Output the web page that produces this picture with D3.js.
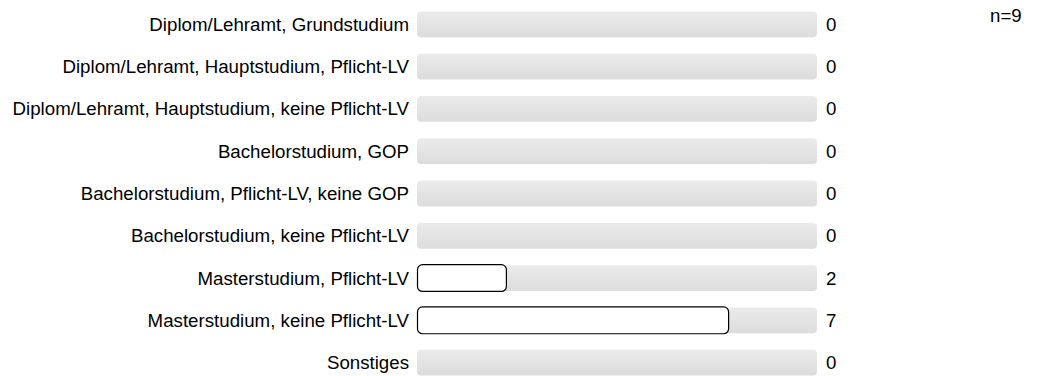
<!DOCTYPE html>
<html>
<head>
<meta charset="utf-8">
<script src="https://cdn.jsdelivr.net/npm/d3@7"></script>
<style>
  body { margin: 0; background: #fff; }
  text { font-family: "Liberation Sans", Arial, sans-serif; font-size: 18.7px; fill: #000; }
</style>
</head>
<body>
<script>
// answer categories and counts
var categories = [
  "Diplom/Lehramt, Grundstudium",
  "Diplom/Lehramt, Hauptstudium, Pflicht-LV",
  "Diplom/Lehramt, Hauptstudium, keine Pflicht-LV",
  "Bachelorstudium, GOP",
  "Bachelorstudium, Pflicht-LV, keine GOP",
  "Bachelorstudium, keine Pflicht-LV",
  "Masterstudium, Pflicht-LV",
  "Masterstudium, keine Pflicht-LV",
  "Sonstiges"
];
var counts = [0, 0, 0, 0, 0, 0, 2, 7, 0];
var total = 9;

var width = 1040, height = 376;

var svg = d3.select("body").append("svg")
    .attr("width", width)
    .attr("height", height);

var defs = svg.append("defs");
var grad = defs.append("linearGradient")
    .attr("id", "bg")
    .attr("x1", 0).attr("y1", 0).attr("x2", 0).attr("y2", 1);
grad.append("stop").attr("offset", "0%").attr("stop-color", "#ebebeb");
grad.append("stop").attr("offset", "100%").attr("stop-color", "#dcdcdc");

var xScale = d3.scaleLinear()
    .domain([0, total])
    .range([417, 817]);

var yScale = d3.scaleBand()
    .domain(categories)
    .range([3, 384])
    .paddingInner(0.39)
    .paddingOuter(0.2);

var rows = svg.selectAll(".row")
    .data(categories)
  .enter().append("g")
    .attr("class", "row")
    .attr("transform", function (d) { return "translate(0," + yScale(d) + ")"; });

var bh = yScale.bandwidth();

// grey background track
rows.append("rect")
    .attr("x", xScale(0))
    .attr("y", 0)
    .attr("width", xScale(total) - xScale(0))
    .attr("height", bh)
    .attr("rx", 4)
    .style("fill", "url(#bg)");

// value bar
rows.filter(function (d, i) { return counts[i] > 0; })
  .append("rect")
    .attr("x", xScale(0) + 0.5)
    .attr("y", -0.5)
    .attr("width", function (d) { return xScale(counts[categories.indexOf(d)]) - xScale(0); })
    .attr("height", bh + 1)
    .attr("rx", 5)
    .style("fill", "#fff")
    .style("stroke", "#000")
    .style("stroke-width", 1.2);

// category label
rows.append("text")
    .attr("x", 409)
    .attr("y", bh / 2)
    .attr("dy", "0.35em")
    .style("text-anchor", "end")
    .text(function (d) { return d; });

// count label
rows.append("text")
    .attr("x", 826)
    .attr("y", bh / 2)
    .attr("dy", "0.35em")
    .text(function (d, i) { return counts[i]; });

svg.append("text")
    .attr("x", 990)
    .attr("y", 22)
    .text("n=" + total);
</script>
</body>
</html>
